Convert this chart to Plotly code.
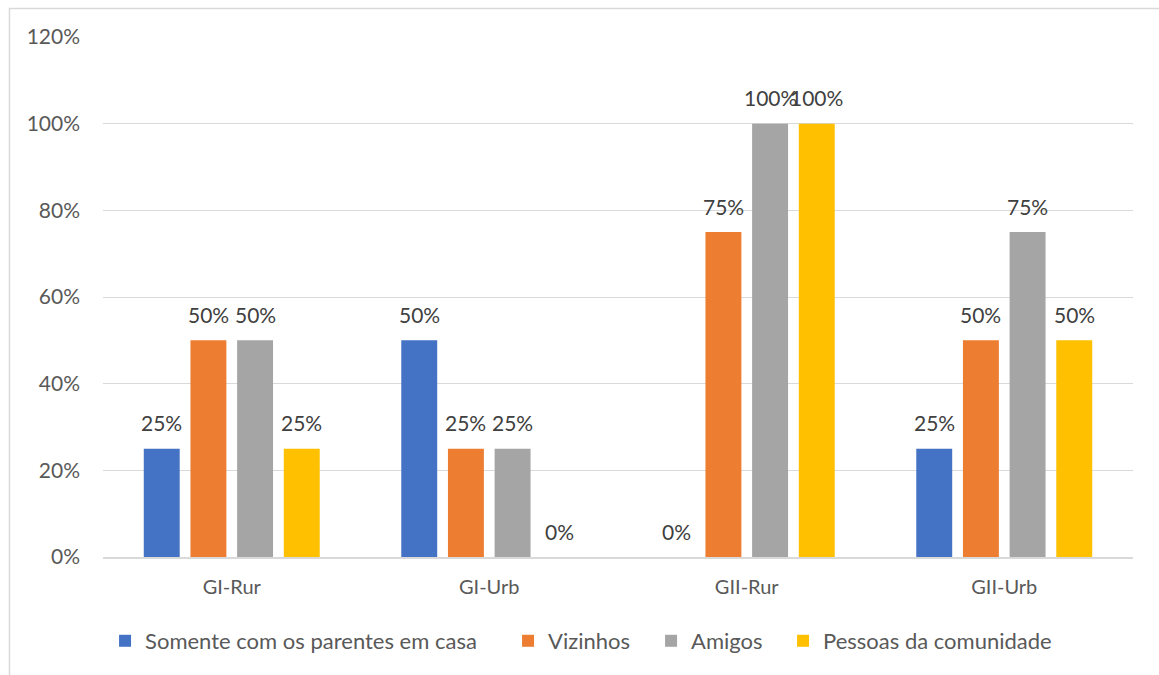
import plotly.graph_objects as go

categories = ["GI-Rur", "GI-Urb", "GII-Rur", "GII-Urb"]
series_names = ["Somente com os parentes em casa", "Vizinhos", "Amigos", "Pessoas da comunidade"]
somente = [0.25, 0.50, 0.00, 0.25]
vizinhos = [0.50, 0.25, 0.75, 0.50]
amigos = [0.50, 0.25, 1.00, 0.75]
comunidade = [0.25, 0.00, 1.00, 0.50]
colors = ["#4472C4", "#ED7D31", "#A5A5A5", "#FFC000"]
y_ticks = [0, 0.2, 0.4, 0.6, 0.8, 1.0, 1.2]

series = [somente, vizinhos, amigos, comunidade]
legend_widths = [358, 98, 87, 233]
FONT = "Lato, Carlito, Calibri, sans-serif"

fig = go.Figure()
for name, vals, col, lw in zip(series_names, series, colors, legend_widths):
    fig.add_trace(go.Bar(name=name, x=categories, y=vals, legendwidth=lw,
                         marker=dict(color=col, line=dict(width=0))))

# value labels above each bar
group_w = 257.5 * (1 - 0.275)
slot = group_w / 4
annotations = []
for i, vals in enumerate(series):
    offset = (i - 1.5) * slot
    for cat, v in zip(categories, vals):
        annotations.append(dict(
            x=cat, y=v, xref="x", yref="y", text=f"{round(v * 100)}%",
            showarrow=False, xshift=offset, yshift=26, yanchor="middle",
            font=dict(family=FONT, size=21, color="#404040"),
        ))

fig.update_layout(
    width=1159, height=675,
    margin=dict(l=103, r=26, t=37, b=118),
    paper_bgcolor="white", plot_bgcolor="white",
    barmode="group", bargap=0.275, bargroupgap=0.23,
    font=dict(family=FONT, size=21, color="#595959"),
    xaxis=dict(showgrid=False, showline=True, linecolor="#d9d9d9", linewidth=1.5,
               ticks="", ticklabelstandoff=11, tickfont=dict(size=20, color="#595959")),
    yaxis=dict(range=[0, 1.2], tickvals=y_ticks, tickformat=".0%", showgrid=True,
               gridcolor="#d9d9d9", gridwidth=1.2, zeroline=False, showline=False,
               ticks="", ticklabelstandoff=22, tickfont=dict(size=21, color="#595959")),
    legend=dict(orientation="h", x=0.002, xanchor="left", y=-0.1615, yanchor="middle",
                font=dict(family=FONT, size=22, color="#595959"), traceorder="normal"),
    annotations=annotations,
    shapes=[dict(type="rect", xref="paper", yref="paper", x0=-0.0908, x1=1.2, y0=-0.4, y1=1.0548,
                 line=dict(color="#d9d9d9", width=1.5), fillcolor="rgba(0,0,0,0)", layer="below")],
)

fig.write_html("out.html")
